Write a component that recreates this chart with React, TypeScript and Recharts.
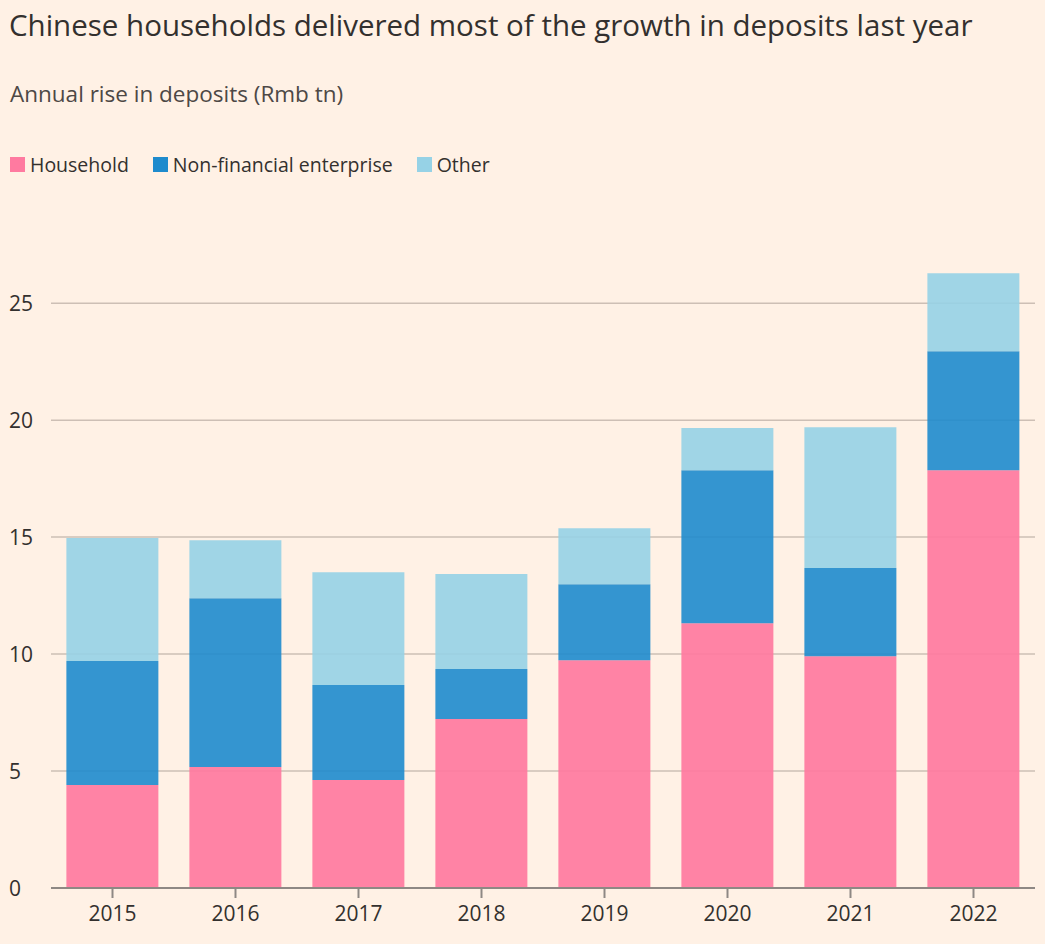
import { Bar, BarChart, CartesianGrid, XAxis, YAxis } from 'recharts';

const years = ['2015', '2016', '2017', '2018', '2019', '2020', '2021', '2022'];
const household = [4.4, 5.17, 4.62, 7.22, 9.74, 11.32, 9.91, 17.86];
const nonFinancial = [5.3, 7.22, 4.06, 2.14, 3.25, 6.54, 3.77, 5.09];
const other = [5.26, 2.48, 4.82, 4.06, 2.39, 1.8, 6.02, 3.33];
const yTicks = [0, 5, 10, 15, 20, 25];

const data = years.map((year, i) => ({
  year,
  household: household[i],
  nonFinancial: nonFinancial[i],
  other: other[i],
}));

const FONT = '"Open Sans", "Noto Sans", sans-serif';
const TEXT = '#33302e';

const legendItems = [
  { label: 'Household', color: '#ff7aa0' },
  { label: 'Non-financial enterprise', color: '#1e8bcd' },
  { label: 'Other', color: '#96d2e6' },
];

function YTick({ y, payload }: any) {
  return (
    <text x={9} y={y} dy={7.5} textAnchor="start" fontSize={21} fill={TEXT} fontFamily={FONT}>
      {payload.value}
    </text>
  );
}

export default function App() {
  return (
    <div
      style={{
        position: 'absolute',
        left: 0,
        top: 0,
        width: 1045,
        height: 944,
        background: '#fff1e5',
        fontFamily: FONT,
        color: TEXT,
      }}
    >
      <div style={{ position: 'absolute', left: 9, top: 4, fontSize: 29.5, whiteSpace: 'nowrap' }}>
        Chinese households delivered most of the growth in deposits last year
      </div>
      <div style={{ position: 'absolute', left: 10, top: 78, fontSize: 22.5, color: '#4d4845', whiteSpace: 'nowrap' }}>
        Annual rise in deposits (Rmb tn)
      </div>
      <div style={{ position: 'absolute', left: 10, top: 151, display: 'flex', fontSize: 19.5, whiteSpace: 'nowrap' }}>
        {legendItems.map((item) => (
          <div key={item.label} style={{ display: 'flex', alignItems: 'center', marginRight: 24 }}>
            <span style={{ width: 15, height: 15, background: item.color, marginRight: 5 }} />
            {item.label}
          </div>
        ))}
      </div>
      <div style={{ position: 'absolute', left: 0, top: 0 }}>
        <BarChart
          width={1045}
          height={944}
          data={data}
          margin={{ top: 233, right: 10, bottom: 0, left: 0 }}
          barCategoryGap="12.5%"
        >
          <CartesianGrid
            vertical={false}
            horizontalValues={[5, 10, 15, 20, 25]}
            stroke="#cdbfb5"
            strokeWidth={1.5}
          />
          <XAxis
            dataKey="year"
            height={56}
            axisLine={{ stroke: '#8e8884', strokeWidth: 2 }}
            tickLine={{ stroke: '#8e8884', strokeWidth: 2 }}
            tickSize={10}
            tick={{ fontSize: 21, fill: TEXT, fontFamily: FONT }}
            tickMargin={8}
          />
          <YAxis
            width={51}
            domain={[0, 28]}
            ticks={yTicks}
            axisLine={false}
            tickLine={false}
            tick={<YTick />}
          />
          <Bar dataKey="household" stackId="a" fill="#ff7aa0" fillOpacity={0.92} isAnimationActive={false} />
          <Bar dataKey="nonFinancial" stackId="a" fill="#1e8bcd" fillOpacity={0.9} isAnimationActive={false} />
          <Bar dataKey="other" stackId="a" fill="#96d2e6" fillOpacity={0.9} isAnimationActive={false} />
        </BarChart>
      </div>
    </div>
  );
}
